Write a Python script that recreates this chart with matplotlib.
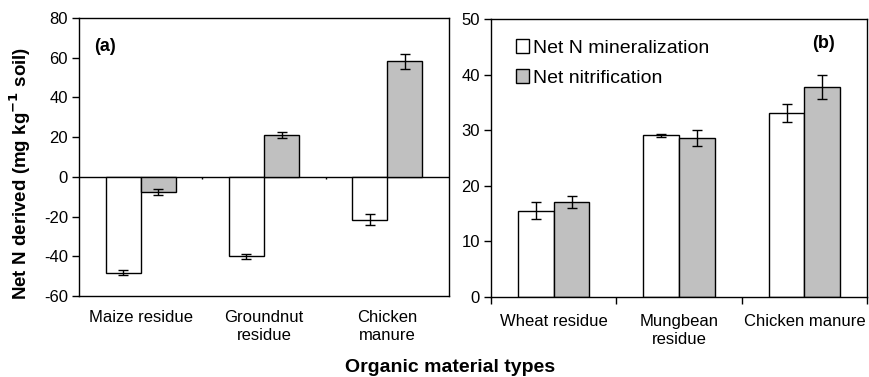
import numpy as np
import matplotlib
matplotlib.use("Agg")
import matplotlib.pyplot as plt

plt.rcParams['font.family'] = ['Liberation Sans', 'DejaVu Sans']
plt.rcParams['axes.unicode_minus'] = False

# panel (a)
cats_a = ["Maize residue", "Groundnut\nresidue", "Chicken\nmanure"]
min_a = [-48.2, -40.0, -21.5]
min_a_err = [1.1, 1.3, 2.7]
nit_a = [-7.6, 21.2, 58.2]
nit_a_err = [1.3, 1.5, 3.8]

# panel (b)
cats_b = ["Wheat residue", "Mungbean\nresidue", "Chicken manure"]
min_b = [15.5, 29.1, 33.1]
min_b_err = [1.5, 0.3, 1.6]
nit_b = [17.1, 28.6, 37.8]
nit_b_err = [1.1, 1.4, 2.1]

WHITE = "white"
GRAY = "#c0c0c0"
w = 0.285
err_kw = dict(ecolor="black", elinewidth=1.0, capsize=3.8, capthick=1.0)

fig = plt.figure(figsize=(8.7, 3.77), dpi=100)
ax1 = fig.add_axes([0.0908, 0.2149, 0.4253, 0.7374])
ax2 = fig.add_axes([0.5644, 0.2122, 0.4322, 0.7374])

# ---- panel (a)
x = np.arange(1, len(cats_a) + 1)
ax1.bar(x - w / 2, min_a, w, color=WHITE, edgecolor="black", linewidth=1.0,
        yerr=min_a_err, error_kw=err_kw, zorder=2)
ax1.bar(x + w / 2, nit_a, w, color=GRAY, edgecolor="black", linewidth=1.0,
        yerr=nit_a_err, error_kw=err_kw, zorder=2)
ax1.set_xlim(0.5, len(cats_a) + 0.5)
ax1.set_ylim(-60, 80)
ax1.set_yticks(np.arange(-60, 81, 20))
ax1.set_xticks(x)
ax1.set_xticklabels(cats_a, fontsize=12, linespacing=1.25)
ax1.tick_params(axis="x", length=0, pad=10)
ax1.tick_params(axis="y", direction="out", length=5, width=1, labelsize=12, pad=3)
ax1.axhline(0, color="black", linewidth=1.0, zorder=1)
ax1.vlines(x[:-1] + 0.5, -0.9, 0, color="black", linewidth=1.0)
ax1.text(0.04, 0.88, "(a)", transform=ax1.transAxes, fontsize=13, fontweight="bold")
ax1.set_ylabel("Net N derived (mg kg$^{\\mathbf{-1}}$ soil)", fontsize=13.5,
               fontweight="bold")
ax1.yaxis.set_label_coords(-0.124, 0.44)

# ---- panel (b)
x = np.arange(1, len(cats_b) + 1)
ax2.bar(x - w / 2, min_b, w, color=WHITE, edgecolor="black", linewidth=1.0,
        yerr=min_b_err, error_kw=err_kw, zorder=2, label="Net N mineralization")
ax2.bar(x + w / 2, nit_b, w, color=GRAY, edgecolor="black", linewidth=1.0,
        yerr=nit_b_err, error_kw=err_kw, zorder=2, label="Net nitrification")
ax2.set_xlim(0.5, len(cats_b) + 0.5)
ax2.set_ylim(0, 50)
ax2.set_yticks(np.arange(0, 51, 10))
ax2.set_xticks(x)
ax2.set_xticklabels(cats_b, fontsize=12, linespacing=1.25)
ax2.set_xticks(np.arange(0.5, len(cats_b) + 1, 1), minor=True)
ax2.tick_params(axis="x", which="major", length=0, pad=12)
ax2.tick_params(axis="x", which="minor", direction="out", length=5, width=1)
ax2.tick_params(axis="y", direction="out", length=5, width=1, labelsize=12, pad=3)
ax2.text(0.855, 0.895, "(b)", transform=ax2.transAxes, fontsize=13, fontweight="bold")
leg = ax2.legend(loc="upper left", bbox_to_anchor=(0.045, 0.955), frameon=False,
                 fontsize=14, handlelength=0.7, handleheight=0.7,
                 handletextpad=0.2, labelspacing=0.62, borderaxespad=0)

for ax in (ax1, ax2):
    for s in ax.spines.values():
        s.set_linewidth(1.0)
        s.set_color("black")

fig.text(0.517, 0.012, "Organic material types", ha="center", fontsize=14,
         fontweight="bold")

fig.savefig("out.png", dpi=100)
